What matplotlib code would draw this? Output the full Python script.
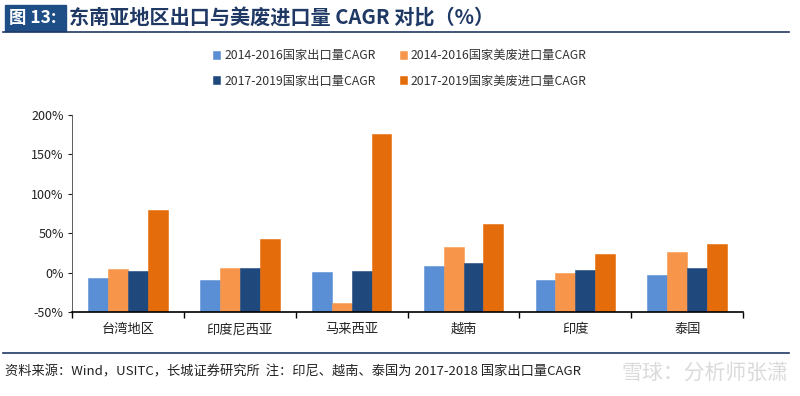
import numpy as np
import matplotlib.pyplot as plt
from matplotlib.patches import Rectangle

plt.rcParams['font.family'] = ['Noto Sans CJK SC', 'DejaVu Sans']

regions = ["台湾地区", "印度尼西亚", "马来西亚", "越南", "印度", "泰国"]
series_names = ["2014-2016国家出口量CAGR", "2014-2016国家美废进口量CAGR",
                "2017-2019国家出口量CAGR", "2017-2019国家美废进口量CAGR"]
export_14_16 = [-7, -10, 0.5, 8, -10, -3]
scrap_14_16 = [4, 6, -39, 33, -1, 26]
export_17_19 = [2, 6, 2.5, 12, 3.5, 6]
scrap_17_19 = [79, 43, 176, 62, 23.5, 36]
colors = ["#5a8fd6", "#f7964a", "#1f497d", "#e46c0a"]

fig = plt.figure(figsize=(8, 3.96), dpi=100)
ax = fig.add_axes([0.09, 0.212, 0.839, 0.498])

base = -50
w = 0.178
x = np.arange(len(regions))
all_series = [export_14_16, scrap_14_16, export_17_19, scrap_17_19]
for i, (vals, c, name) in enumerate(zip(all_series, colors, series_names)):
    vals = np.array(vals)
    ax.bar(x + (i - 1.5) * w, vals - base, w, bottom=base, color=c,
           label=name, edgecolor=c, linewidth=0.4)

ax.set_xlim(-0.5, len(regions) - 0.5)
ax.set_ylim(-50, 200)
ax.set_yticks([-50, 0, 50, 100, 150, 200])
ax.set_yticklabels(["-50%", "0%", "50%", "100%", "150%", "200%"])
ax.set_xticks(x)
ax.set_xticklabels(regions)
ax.set_xticks(np.arange(-0.5, len(regions)), minor=True)
ax.tick_params(axis='x', which='major', length=0, pad=8, labelsize=9.5, colors='#222222')
ax.tick_params(axis='x', which='minor', length=4, direction='out', width=1)
ax.tick_params(axis='y', length=3, direction='out', labelsize=9, colors='#222222', pad=3)
for s in ['top', 'right']:
    ax.spines[s].set_visible(False)
ax.spines['left'].set_color('#444444')
ax.spines['left'].set_linewidth(0.6)
ax.spines['bottom'].set_color('black')
ax.spines['bottom'].set_linewidth(1.2)

handles, labels = ax.get_legend_handles_labels()
order = [0, 2, 1, 3]
leg = fig.legend([handles[k] for k in order], [labels[k] for k in order],
                 ncol=2, loc='center', bbox_to_anchor=(0.5, 0.827),
                 frameon=False, fontsize=8.8, handlelength=0.6, handleheight=0.6,
                 handletextpad=0.3, columnspacing=2.0, labelspacing=1.0)
for t in leg.get_texts():
    t.set_color('#333333')

# title bar
fig.patches.append(Rectangle((0.006, 0.922), 0.077, 0.066, transform=fig.transFigure,
                             color='#1f4e86', zorder=0))
fig.text(0.011, 0.955, "图 13:", color='white', fontsize=12.5, fontweight='bold',
         va='center', ha='left')
fig.text(0.086, 0.955, "东南亚地区出口与美废进口量 CAGR 对比（%）", color='#1f3864',
         fontsize=14.5, fontweight='bold', va='center', ha='left')
fig.add_artist(plt.Line2D([0.004, 0.986], [0.918, 0.918], color='#1f3864', lw=1.2))

# footer
fig.add_artist(plt.Line2D([0.004, 0.986], [0.108, 0.108], color='#1f3864', lw=1.2))
fig.text(0.006, 0.06, "资料来源：Wind，USITC，长城证券研究所  注：印尼、越南、泰国为 2017-2018 国家出口量CAGR",
         fontsize=9.5, style='italic', color='#222222', va='center', ha='left')
fig.text(0.985, 0.06, "雪球：分析师张潇", fontsize=15, color='#d4d4d4', alpha=0.85,
         va='center', ha='right')

fig.savefig("out.png", dpi=100)
